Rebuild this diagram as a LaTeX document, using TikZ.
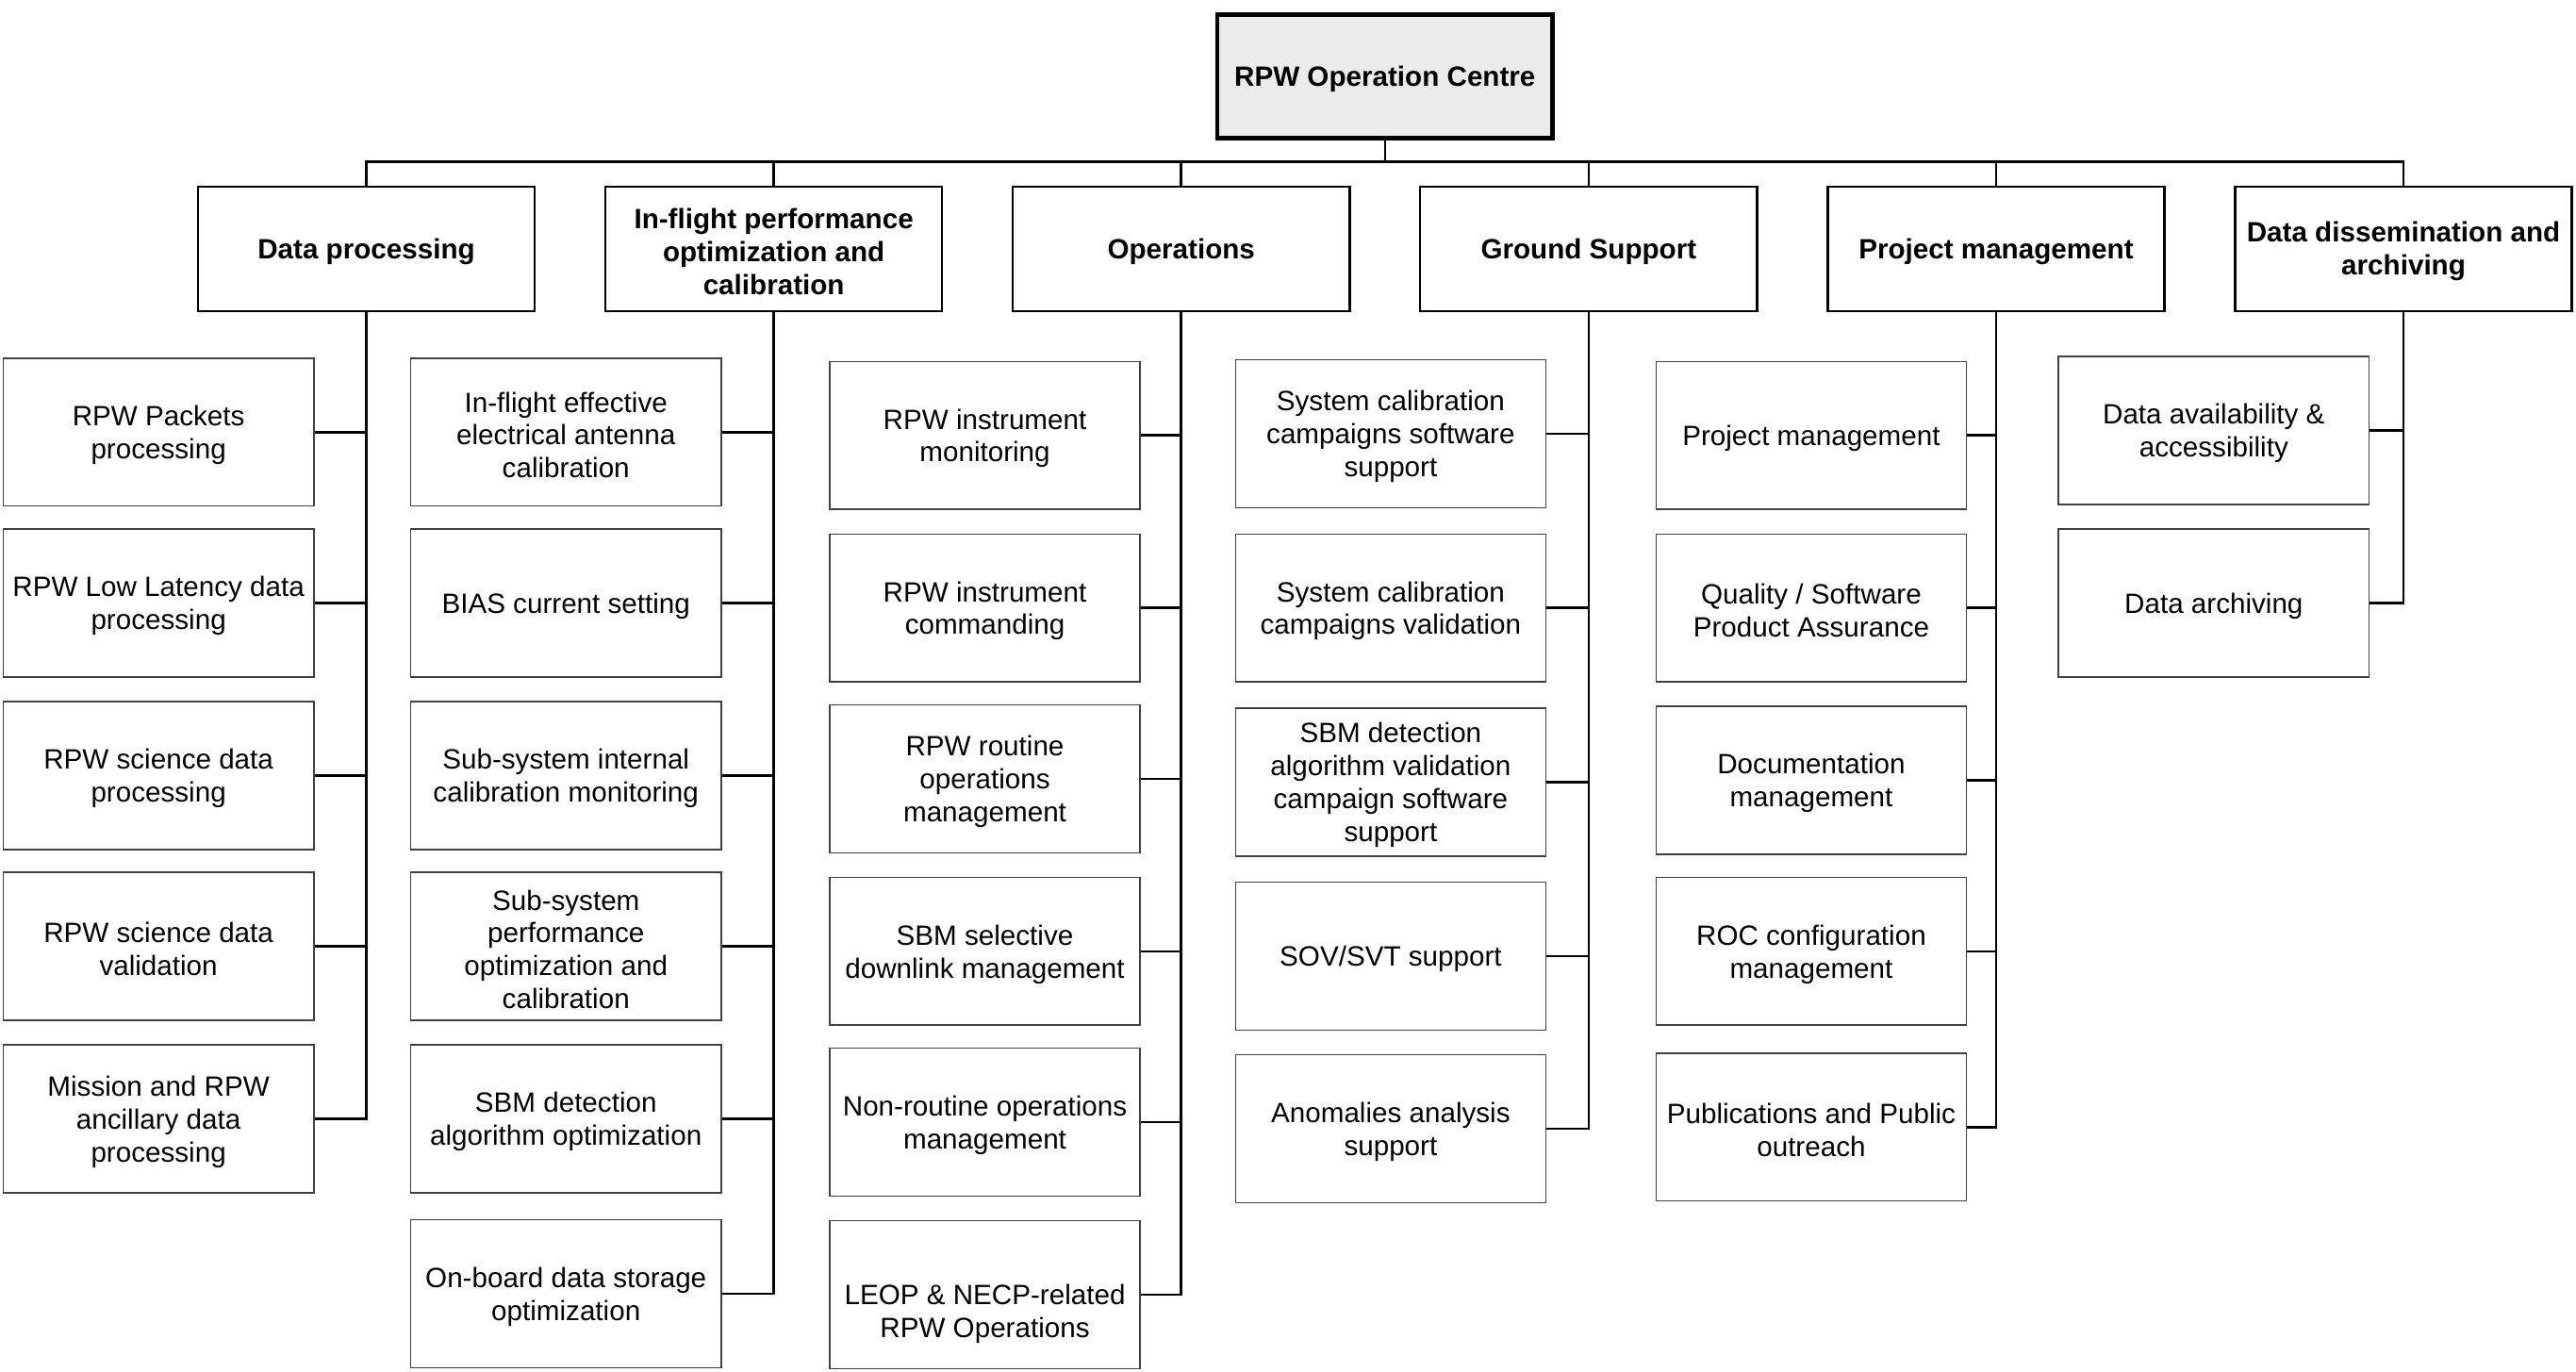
\documentclass[tikz,border=0pt]{standalone}
\usepackage{fontspec}
\setmainfont{Liberation Sans}
% box node with its text set slightly lower, as in the reference
\newcommand{\bxnode}[5]{%
  \node[#1] (#2) at (#3) {};
  \node[txt,#1text] (#2-t) at ([yshift=#5]#2.center) {#4};}
\begin{document}
\begin{tikzpicture}[x=1pt,y=-1pt,
  txt/.style={font=\fontsize{17}{20}\selectfont, align=center, inner sep=0pt},
  rootbox/.style={draw=black, line width=2.6pt, fill=black!8, minimum width=204pt, minimum height=75pt, inner sep=0pt},
  rootboxtext/.style={font=\fontsize{17}{20}\selectfont\bfseries},
  catbox/.style={draw=black, line width=1.4pt, fill=white, minimum width=205pt, minimum height=76pt, inner sep=0pt},
  catboxtext/.style={font=\fontsize{17}{20}\selectfont\bfseries},
  leaf/.style={draw=black!75, line width=0.85pt, fill=white, minimum width=189pt, minimum height=90pt, inner sep=0pt},
  leaftext/.style={},
  conn/.style={draw=black, line width=1.5pt}
]
\fill[white] (0,0) rectangle (1568,835);
\useasboundingbox (0,0) rectangle (1568,835);

% root and categories
\bxnode{rootbox}{root}{843,46.5}{RPW Operation Centre}{-1.8pt}
\bxnode{catbox}{c1}{223,151.5}{Data processing}{-1.5pt}
\bxnode{catbox}{c2}{471,151.5}{In-flight performance\\optimization and\\calibration}{-1.5pt}
\bxnode{catbox}{c3}{719,151.5}{Operations}{-1.5pt}
\bxnode{catbox}{c4}{967,151.5}{Ground Support}{-1.5pt}
\bxnode{catbox}{c5}{1215,151.5}{Project management}{-1.5pt}
\bxnode{catbox}{c6}{1463,151.5}{Data dissemination and\\archiving}{-1.5pt}

% column 1
\bxnode{leaf}{d1}{96.5,263}{RPW Packets\\processing}{-1.8pt}
\bxnode{leaf}{d2}{96.5,367}{RPW Low Latency data\\processing}{-1.8pt}
\bxnode{leaf}{d3}{96.5,472}{RPW science data\\processing}{-1.8pt}
\bxnode{leaf}{d4}{96.5,576}{RPW science data\\validation}{-1.8pt}
\bxnode{leaf}{d5}{96.5,681}{Mission and RPW\\ancillary data\\processing}{-1.8pt}

% column 2
\bxnode{leaf}{i1}{344.5,263}{In-flight effective\\electrical antenna\\calibration}{-1.8pt}
\bxnode{leaf}{i2}{344.5,367}{BIAS current setting}{-1.8pt}
\bxnode{leaf}{i3}{344.5,472}{Sub-system internal\\calibration monitoring}{-1.8pt}
\bxnode{leaf}{i4}{344.5,576}{Sub-system\\performance\\optimization and\\calibration}{-1.8pt}
\bxnode{leaf}{i5}{344.5,681}{SBM detection\\algorithm optimization}{-1.8pt}
\bxnode{leaf}{i6}{344.5,787.5}{On-board data storage\\optimization}{-1.8pt}

% column 3
\bxnode{leaf}{o1}{599.5,265}{RPW instrument\\monitoring}{-1.8pt}
\bxnode{leaf}{o2}{599.5,370}{RPW instrument\\commanding}{-1.8pt}
\bxnode{leaf}{o3}{599.5,474}{RPW routine\\operations\\management}{-1.8pt}
\bxnode{leaf}{o4}{599.5,579}{SBM selective\\downlink management}{-1.8pt}
\bxnode{leaf}{o5}{599.5,683}{Non-routine operations\\management}{-1.8pt}
\bxnode{leaf}{o6}{599.5,788}{LEOP \& NECP-related\\RPW Operations}{-11.8pt}

% column 4
\bxnode{leaf}{g1}{846.5,264}{System calibration\\campaigns software\\support}{-1.8pt}
\bxnode{leaf}{g2}{846.5,370}{System calibration\\campaigns validation}{-1.8pt}
\bxnode{leaf}{g3}{846.5,476}{SBM detection\\algorithm validation\\campaign software\\support}{-1.8pt}
\bxnode{leaf}{g4}{846.5,582}{SOV/SVT support}{-1.8pt}
\bxnode{leaf}{g5}{846.5,687}{Anomalies analysis\\support}{-1.8pt}

% column 5
\bxnode{leaf}{p1}{1102.5,265}{Project management}{-1.8pt}
\bxnode{leaf}{p2}{1102.5,370}{Quality / Software\\Product Assurance}{-1.8pt}
\bxnode{leaf}{p3}{1102.5,475}{Documentation\\management}{-1.8pt}
\bxnode{leaf}{p4}{1102.5,579}{ROC configuration\\management}{-1.8pt}
\bxnode{leaf}{p5}{1102.5,686}{Publications and Public\\outreach}{-1.8pt}

% column 6
\bxnode{leaf}{a1}{1347.5,262}{Data availability \&\\accessibility}{-1.8pt}
\bxnode{leaf}{a2}{1347.5,367}{Data archiving}{-1.8pt}

% connectors root -> categories
\foreach \c in {c1,c2,c3,c4,c5,c6}
  \draw[conn] (root.south) -- ++(0,13) -| (\c.north);

% connectors categories -> leaves
\foreach \l in {d1,d2,d3,d4,d5} \draw[conn] (c1.south) |- (\l.east);
\foreach \l in {i1,i2,i3,i4,i5,i6} \draw[conn] (c2.south) |- (\l.east);
\foreach \l in {o1,o2,o3,o4,o5,o6} \draw[conn] (c3.south) |- (\l.east);
\foreach \l in {g1,g2,g3,g4,g5} \draw[conn] (c4.south) |- (\l.east);
\foreach \l in {p1,p2,p3,p4,p5} \draw[conn] (c5.south) |- (\l.east);
\foreach \l in {a1,a2} \draw[conn] (c6.south) |- (\l.east);
\end{tikzpicture}
\end{document}
